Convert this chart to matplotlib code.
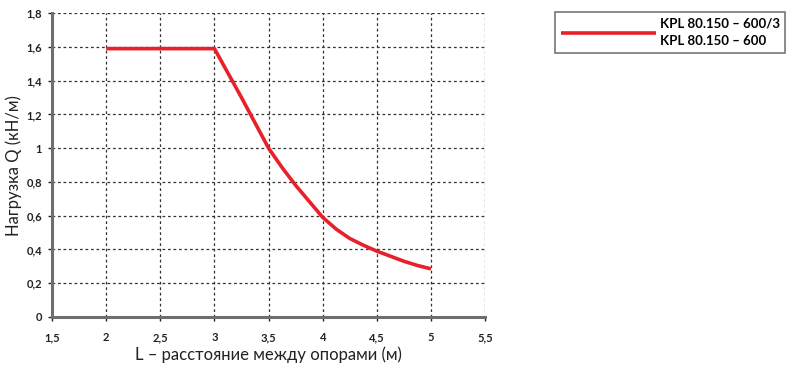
import numpy as np
import matplotlib.pyplot as plt

plt.rcParams['font.family'] = ['Lato', 'DejaVu Sans']

# данные кривой
L = [2.0, 3.0, 3.125, 3.25, 3.375, 3.5, 3.625, 3.75, 3.875, 4.0,
     4.125, 4.25, 4.375, 4.5, 4.625, 4.75, 4.875, 5.0]
Q = [1.59, 1.59, 1.445, 1.30, 1.15, 1.0, 0.885, 0.78, 0.685, 0.59,
     0.52, 0.465, 0.425, 0.39, 0.36, 0.33, 0.305, 0.285]

x_ticks = [1.5, 2, 2.5, 3, 3.5, 4, 4.5, 5, 5.5]
x_labels = ['1,5', '2', '2,5', '3', '3,5', '4', '4,5', '5', '5,5']
y_ticks = [0, 0.2, 0.4, 0.6, 0.8, 1.0, 1.2, 1.4, 1.6, 1.8]
y_labels = ['0', '0,2', '0,4', '0,6', '0,8', '1', '1,2', '1,4', '1,6', '1,8']

legend_label = 'KPL 80.150 – 600/3\nKPL 80.150 – 600'

fig = plt.figure(figsize=(7.94, 3.66), dpi=100)
ax = fig.add_axes([0.0655, 0.134, 0.5455, 0.830])

ax.plot(L, Q, color='#e8202a', lw=2.6, label=legend_label, solid_capstyle='butt')

ax.set_xlim(1.5, 5.5)
ax.set_ylim(0, 1.8)
ax.set_xticks(x_ticks)
ax.set_xticklabels(x_labels)
ax.set_yticks(y_ticks)
ax.set_yticklabels(y_labels)

ax.grid(True, color='#333333', linestyle=(0, (2.2, 2.2)), lw=0.9)
ax.set_axisbelow(True)

for s in ['top', 'right']:
    ax.spines[s].set_visible(False)
for s in ['left', 'bottom']:
    ax.spines[s].set_color('#6e6e6e')
    ax.spines[s].set_linewidth(2.2)

ax.tick_params(axis='both', labelsize=8, colors='#222222', length=3, width=1)
ax.tick_params(axis='x', pad=8)
ax.tick_params(axis='y', pad=4)
for t in ax.get_xticklabels() + ax.get_yticklabels():
    t.set_fontweight('bold')

ax.set_xlabel('L – расстояние между опорами (м)', fontsize=12, color='#222222')
ax.set_ylabel('Нагрузка Q (кН/м)', fontsize=12, color='#222222')
ax.xaxis.set_label_coords(0.5, -0.125, transform=ax.transAxes)
ax.yaxis.set_label_coords(-0.088, 0.5, transform=ax.transAxes)
ax.xaxis.label.set_va('center')
ax.yaxis.label.set_va('center')

leg = ax.legend(loc='upper left', bbox_to_anchor=(0.6995, 0.967), bbox_transform=fig.transFigure,
                prop={'size': 9.5, 'weight': 'bold'}, frameon=True, fancybox=False,
                handlelength=7.2, handletextpad=0.3, borderpad=0.4, borderaxespad=0)
leg.get_frame().set_edgecolor('#555555')
leg.get_frame().set_linewidth(1.2)
for t in leg.get_texts():
    t.set_linespacing(1.6)

fig.savefig('out.png', dpi=100)
